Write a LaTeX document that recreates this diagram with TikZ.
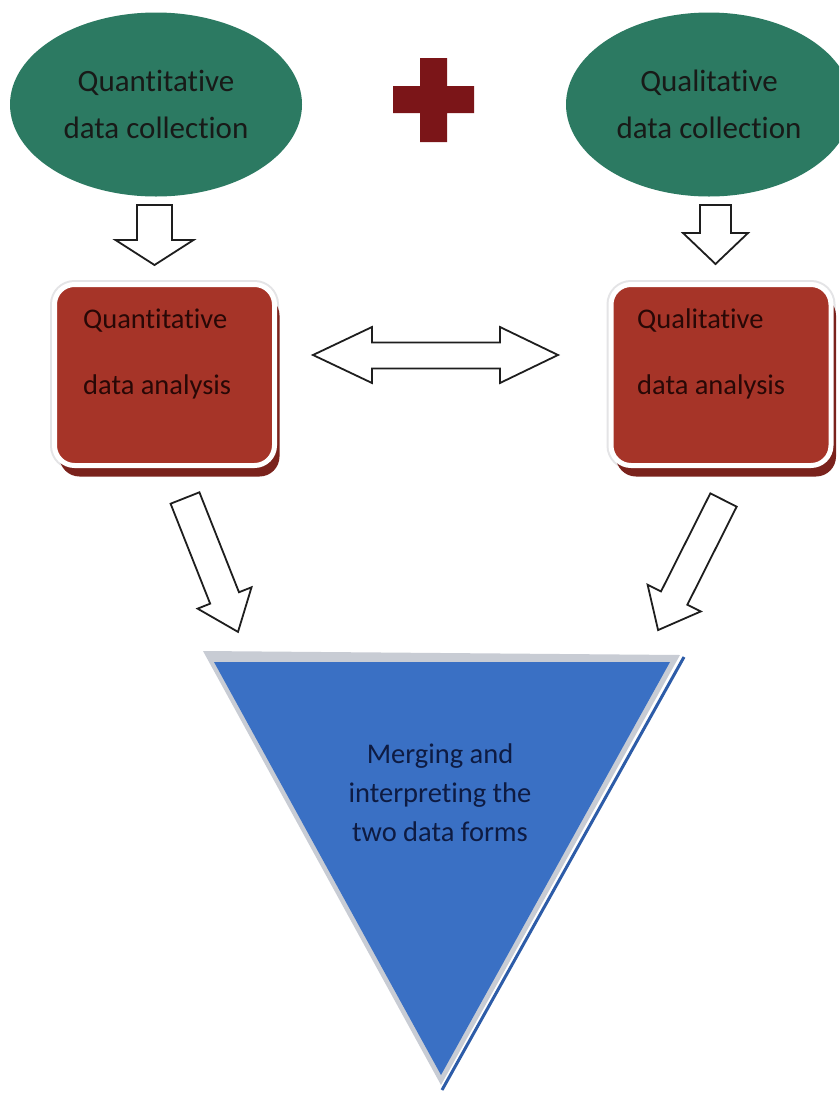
\documentclass[tikz,border=0pt]{standalone}
\usepackage{fontspec}
\setmainfont{Carlito}[Ligatures=NoCommon]
\usetikzlibrary{shapes.geometric,shadows}
\definecolor{ellgreen}{RGB}{44,122,98}
\definecolor{ink}{RGB}{24,26,24}
\definecolor{boxred}{RGB}{166,52,40}
\definecolor{shadowred}{RGB}{122,34,28}
\definecolor{glow}{RGB}{228,228,230}
\definecolor{boxink}{RGB}{40,8,6}
\definecolor{plusred}{RGB}{123,21,24}
\definecolor{triblue}{RGB}{58,112,196}
\definecolor{bevel}{RGB}{200,204,212}
\definecolor{tridark}{RGB}{45,92,168}
\definecolor{triink}{RGB}{14,27,66}
\definecolor{arrowink}{RGB}{30,30,30}
\tikzset{
  collect/.style={ellipse, fill=ellgreen, minimum width=292pt, minimum height=184pt,
    inner sep=0pt, align=center, text=ink, font=\fontsize{31}{47}\selectfont},
  anabox/.style={rectangle, rounded corners=20pt, fill=boxred, draw=white, line width=5pt,
    minimum width=220pt, minimum height=181pt, inner sep=0pt,
    preaction={draw=glow, line width=9pt},
    general shadow={fill=shadowred, shadow xshift=5pt, shadow yshift=-11pt}},
  anatext/.style={anchor=north west, inner sep=0pt, align=left, text=boxink,
    font=\fontsize{28.5}{66}\selectfont},
  mergetext/.style={inner sep=0pt, align=center, text=triink,
    font=\fontsize{28.5}{39}\selectfont},
  blockarrow/.style={draw=arrowink, fill=white, line width=1.8pt, line join=miter},
}
% tail point, angle, length, half shaft, half head, head length
\newcommand\blockarr[6]{%
  \begin{scope}[shift={#1}, rotate=#2]
    \draw[blockarrow] (0,-#4) -- ({#3-#6},-#4) -- ({#3-#6},-#5) -- (#3,0)
      -- ({#3-#6},#5) -- ({#3-#6},#4) -- (0,#4) -- cycle;
  \end{scope}}
\begin{document}
\begin{tikzpicture}[x=1pt,y=-1pt]
\useasboundingbox (0,0) rectangle (839,1093);
\fill[white] (0,0) rectangle (839,1093);
\begin{scope}
\clip (0,0) rectangle (839,1093);

% collection ellipses
\node[collect] (qncol) at (156,104.5) {Quantitative\\data collection};
\node[collect, minimum width=286pt] (qlcol) at (709,104.5) {Qualitative\\data collection};

% plus sign
\fill[plusred] (420,58) -- (447,58) -- (447,86) -- (474,86) -- (474,113) -- (447,113)
  -- (447,142) -- (420,142) -- (420,113) -- (393,113) -- (393,86) -- (420,86) -- cycle;

% down arrows
\blockarr{(154.5,205)}{-90}{60}{17.5}{39}{25}
\blockarr{(715.5,205)}{-90}{59}{15.5}{32.5}{31}

% analysis boxes
\node[anabox] (qnana) at (164.5,375) {};
\node[anatext] (qnanatext) at (83,309) {Quantitative\\data analysis};
\node[anabox] (qlana) at (721,375) {};
\node[anatext] (qlanatext) at (637,309) {Qualitative\\data analysis};

% double arrow
\draw[blockarrow] (313,355) -- (372,327) -- (372,342.5) -- (500,342.5) -- (500,327)
  -- (558,355) -- (500,383) -- (500,368.5) -- (372,368.5) -- (372,383) -- cycle;

% diagonal arrows
\blockarr{(185,498)}{-68.4}{144}{15.5}{29}{36.5}
\blockarr{(723.5,500)}{-116.7}{145.6}{14.75}{29.75}{35.8}

% merging triangle
\fill[bevel] (203,651) -- (680,655) -- (441,1085) -- cycle;
\fill[triblue] (214,662) -- (670,662) -- (441,1075) -- cycle;
\draw[tridark, line width=3pt] (684,657) -- (442,1090);
\node[mergetext] (merge) at (440,793) {Merging and\\interpreting the\\two data forms};
\end{scope}
\end{tikzpicture}
\end{document}
